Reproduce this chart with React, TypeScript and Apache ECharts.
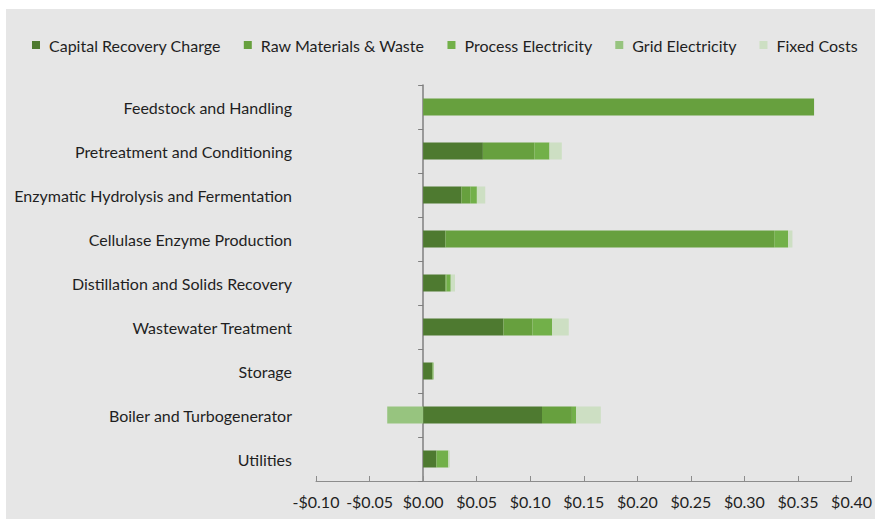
import React, { useEffect, useRef } from "react";
import * as echarts from "echarts";

const categories = [
  "Feedstock and Handling",
  "Pretreatment and Conditioning",
  "Enzymatic Hydrolysis and Fermentation",
  "Cellulase Enzyme Production",
  "Distillation and Solids Recovery",
  "Wastewater Treatment",
  "Storage",
  "Boiler and Turbogenerator",
  "Utilities",
];
const capitalRecovery = [0, 0.0558, 0.0357, 0.0208, 0.0208, 0.075, 0.0087, 0.111, 0.0124];
const rawMaterials = [0.365, 0.048, 0.0083, 0.307, 0.001, 0.027, 0, 0.0279, 0];
const processElectricity = [0, 0.0142, 0.0062, 0.013, 0.004, 0.0185, 0.001, 0.004, 0.0112];
const gridElectricity = [0, 0, 0, 0, 0, 0, 0, -0.0335, 0];
const fixedCosts = [0, 0.0115, 0.0078, 0.004, 0.004, 0.0155, 0, 0.023, 0.0014];

const seriesNames = [
  "Capital Recovery Charge",
  "Raw Materials & Waste",
  "Process Electricity",
  "Grid Electricity",
  "Fixed Costs",
];
const seriesColors = ["#4e7a30", "#67a03e", "#72b049", "#97c47f", "#cddfc3"];

const FONT = "Lato";

export default function App() {
  const ref = useRef<HTMLDivElement>(null);
  useEffect(() => {
    if (!ref.current) return;
    const chart = echarts.init(ref.current, null, { renderer: "svg" });
    const values = [capitalRecovery, rawMaterials, processElectricity, gridElectricity, fixedCosts];
    chart.setOption({
      animation: false,
      backgroundColor: "#e6e6e6",
      textStyle: { fontFamily: FONT },
      legend: {
        left: 21,
        top: 23,
        itemWidth: 8,
        itemHeight: 8,
        itemGap: 23,
        icon: "rect",
        data: seriesNames,
        textStyle: { fontFamily: FONT, fontSize: 16, color: "#1f1f1f", padding: [0, 0, 0, 4] },
      },
      grid: { left: 310, right: 21, top: 76, bottom: 38, containLabel: false },
      xAxis: {
        type: "value",
        min: -0.1,
        max: 0.4,
        interval: 0.05,
        splitLine: { show: false },
        axisLine: { show: true, lineStyle: { color: "#8c8c8c", width: 1 } },
        axisTick: { show: true, inside: true, length: 5, lineStyle: { color: "#8c8c8c" } },
        axisLabel: {
          margin: 12,
          fontFamily: FONT,
          fontSize: 16,
          color: "#1f1f1f",
          formatter: (v: number) => {
            const a = Math.abs(v).toFixed(2);
            return v < -1e-9 ? "-$" + a : "$" + a;
          },
        },
      },
      yAxis: [
        {
          type: "category",
          inverse: true,
          data: categories,
          axisLine: { show: false, onZero: false },
          axisTick: { show: false },
          axisLabel: { margin: 24, fontFamily: FONT, fontSize: 16, color: "#1f1f1f" },
        },
        {
          type: "category",
          inverse: true,
          position: "left",
          data: categories,
          axisLine: { show: true, onZero: true, lineStyle: { color: "#7f7f7f", width: 1.5 } },
          axisTick: { show: true, length: 5, lineStyle: { color: "#7f7f7f" } },
          axisLabel: { show: false },
        },
      ],
      series: seriesNames.map((name, i) => ({
        name,
        type: "bar",
        stack: "total",
        yAxisIndex: 0,
        barWidth: 17,
        data: values[i],
        itemStyle: { color: seriesColors[i] },
        emphasis: { disabled: true },
      })),
    });
    return () => chart.dispose();
  }, []);
  return (
    <div
      ref={ref}
      style={{ position: "absolute", left: 6, top: 9, width: 869, height: 510 }}
    />
  );
}
